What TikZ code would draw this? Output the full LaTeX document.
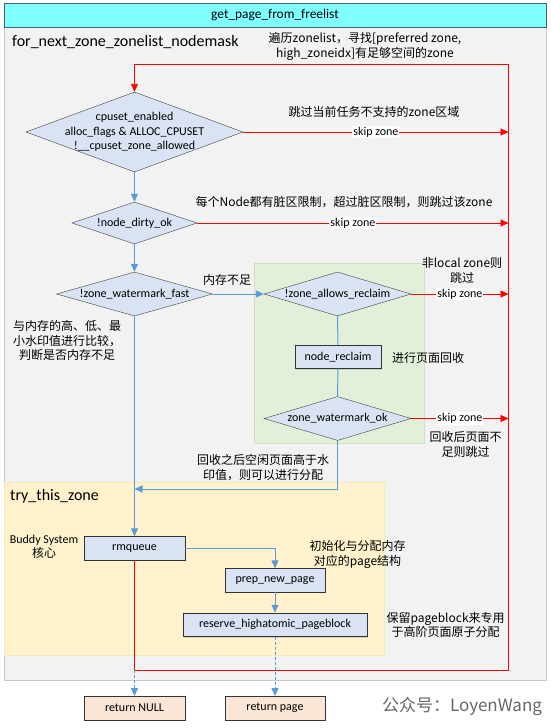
\documentclass[tikz,border=0pt]{standalone}
\usepackage{fontspec}
\setmainfont{Carlito}
\newfontfamily\cjk{Noto Sans CJK SC}
\usetikzlibrary{shapes.geometric,arrows.meta,shadows}
\newcommand{\pxUnit}[0]{1pt}
\definecolor{titlecyan}{RGB}{128,255,255}
\definecolor{titleedge}{RGB}{70,100,110}
\definecolor{areagray}{RGB}{242,242,242}
\definecolor{areaedge}{RGB}{200,200,200}
\definecolor{boxblue}{RGB}{218,227,243}
\definecolor{reclaimgreen}{RGB}{226,240,217}
\definecolor{reclaimedge}{RGB}{205,225,195}
\definecolor{tryyellow}{RGB}{255,242,204}
\definecolor{tryedge}{RGB}{250,232,185}
\definecolor{retpeach}{RGB}{251,229,214}
\definecolor{flowblue}{RGB}{91,155,213}

\begin{document}
\begin{tikzpicture}[x=\pxUnit, y=-\pxUnit, font=\fontsize{12}{14.5}\selectfont]
  \tikzset{
    decision/.style={diamond, draw=black!75, fill=boxblue, align=center, inner sep=-5pt, aspect=3},
    process/.style={rectangle, draw=black!80, fill=boxblue, minimum height=23.5, inner sep=0pt,
      drop shadow={shadow xshift=1.2pt, shadow yshift=-1.2pt, opacity=0.3}},
    endbox/.style={process, fill=retpeach},
    titlebox/.style={rectangle, draw=titleedge, line width=1pt, fill=titlecyan, inner sep=0pt},
    areaname/.style={anchor=west, inner sep=0pt, font=\fontsize{16}{18}\selectfont},
    note/.style={align=center, inner sep=0pt, font=\cjk\fontsize{12}{14.5}\selectfont},
    flowline/.style={draw=flowblue, line width=1pt, -{Triangle[length=8pt,width=7pt]}},
    flowlink/.style={draw=flowblue, line width=1pt},
    redloop/.style={draw=red, line width=0.9pt, -{Triangle[length=8pt,width=7pt]}},
    skipline/.style={redloop},
    skiptag/.style={fill=white, inner sep=1pt},
    dashes/.style={dash pattern=on 3pt off 2pt}
  }
  \useasboundingbox (0,0) rectangle (551,728);

  \draw[draw=areaedge, fill=areagray, drop shadow={shadow xshift=1pt, shadow yshift=-1pt, opacity=0.15}] (4,27) rectangle (546,680);
  \node[titlebox, minimum width=542, minimum height=24, font=\fontsize{13.4}{15}\selectfont] (title) at (275,15) {get\_page\_from\_freelist};
  \node[areaname] (loopName) at (12,42) {for\_next\_zone\_zonelist\_nodemask};
  \draw[draw=reclaimedge, fill=reclaimgreen] (254,263) rectangle (424.5,443);
  \draw[draw=tryedge, fill=tryyellow] (4,482) rectangle (384.5,655);
  \node[areaname] (tryName) at (10,496) {try\_this\_zone};

  \node[decision, minimum width=216, minimum height=80] (cpuset) at (134.5,132) {cpuset\_enabled\\alloc\_flags \& ALLOC\_CPUSET\\!\_\_cpuset\_zone\_allowed};
  \node[decision, minimum width=125, minimum height=42] (dirty) at (134.5,223) {!node\_dirty\_ok};
  \node[decision, minimum width=156, minimum height=44] (wmFast) at (134.5,294) {!zone\_watermark\_fast};
  \node[decision, minimum width=147, minimum height=44] (allowReclaim) at (337.5,294) {!zone\_allows\_reclaim};
  \node[process, minimum width=86.5] (nodeReclaim) at (338,356.7) {node\_reclaim};
  \node[decision, minimum width=147, minimum height=44] (wmOk) at (337.5,418.5) {zone\_watermark\_ok};
  \node[process, minimum width=100.5] (rmqueue) at (134.5,548.3) {rmqueue};
  \node[process, minimum width=100] (prepPage) at (275,580.3) {prep\_new\_page};
  \node[process, minimum width=183.6] (reserve) at (275,624.7) {reserve\_highatomic\_pageblock};
  \node[endbox, minimum width=101] (retNull) at (134.5,708) {return NULL};
  \node[endbox, minimum width=100] (retPage) at (275,708) {return page};

  \coordinate (loopTop) at (508.5,64.3);
  \coordinate (loopBottom) at (508.5,670);
  \coordinate (nullFork) at (134.5,670);
  \coordinate (merge) at (134.5,489);

  \draw[redloop] (rmqueue.south) -- (nullFork) -- (loopBottom) -- (loopTop) -| (cpuset.north);
  \draw[skipline] (cpuset.east) -- (cpuset.east -| loopTop) node[skiptag, pos=0.5] {skip zone};
  \draw[skipline] (dirty.east) -- (dirty.east -| loopTop) node[skiptag, pos=0.5] {skip zone};
  \draw[skipline] (allowReclaim.east) -- (allowReclaim.east -| loopTop) node[skiptag, pos=0.5] {skip zone};
  \draw[skipline] (wmOk.east) -- (wmOk.east -| loopTop) node[skiptag, pos=0.5] {skip zone};

  \draw[flowline] (cpuset.south) -- (dirty.north);
  \draw[flowline] (dirty.south) -- (wmFast.north);
  \draw[flowline] (wmFast.east) -- (allowReclaim.west) node[note, above=8pt, pos=0.28] (noteLow) {内存不足};
  \draw[flowline] (wmFast.south) -- (rmqueue.north);
  \draw[flowlink] (allowReclaim.south) -- (nodeReclaim.north);
  \draw[flowlink] (nodeReclaim.south) -- (wmOk.north);
  \draw[flowline] (wmOk.south) |- (merge);
  \draw[flowline] (rmqueue.east) -| (prepPage.north);
  \draw[flowline] (prepPage.south) -- (reserve.north);
  \draw[flowline, dashes] (reserve.south) -- (retPage.north);
  \draw[flowline, dashes] (nullFork) -- (retNull.north);

  \node[note] (noteScan) at (365,46.3) {遍历zonelist，寻找[preferred zone,\\high\_zoneidx]有足够空间的zone};
  \node[note] (noteCpuset) at (374,112.3) {跳过当前任务不支持的zone区域};
  \node[note] (noteDirty) at (344,201.7) {每个Node都有脏区限制，超过脏区限制，则跳过该zone};
  \node[note] (noteWatermark) at (67,340.5) {与内存的高、低、最\\小水印值进行比较，\\判断是否内存不足};
  \node[note] (noteNonLocal) at (462,270.5) {非local zone则\\跳过};
  \node[note] (noteReclaim) at (428,357.7) {进行页面回收};
  \node[note] (noteRetry) at (465.6,444.5) {回收后页面不\\足则跳过};
  \node[note] (noteEnough) at (263,467.8) {回收之后空闲页面高于水\\印值，则可以进行分配};
  \node[note] (noteBuddy) at (44,546.7) {\rmfamily Buddy System\\核心};
  \node[note] (notePrep) at (357.6,554.2) {初始化与分配内存\\对应的page结构};
  \node[note] (noteReserve) at (445.6,624.7) {保留pageblock来专用\\于高阶页面原子分配};
  \node[note, font=\cjk\fontsize{17}{20}\selectfont, text=black!60] (mark) at (462,706) {公众号：LoyenWang};
\end{tikzpicture}
\end{document}
